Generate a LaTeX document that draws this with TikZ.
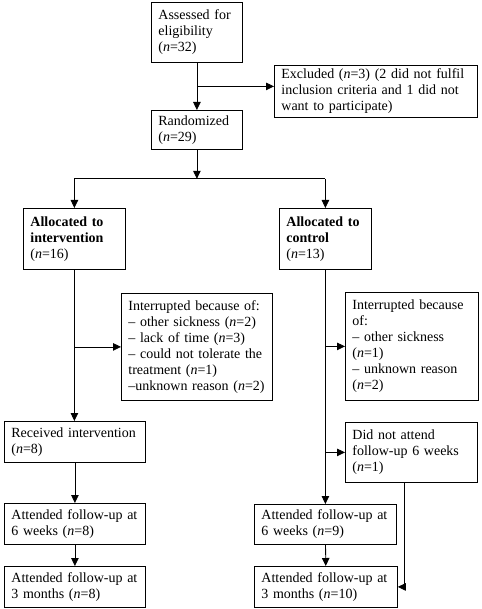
\documentclass[tikz,border=0pt]{standalone}
\usepackage{fontspec}
\setmainfont{Liberation Serif}
\usetikzlibrary{arrows.meta,calc}

\tikzset{
  box/.style={draw, anchor=north west, align=left, inner xsep=7pt, inner ysep=2pt,
    font=\fontsize{14}{16}\selectfont},
  arr/.style={-{Triangle[length=8pt,width=7.5pt]}},
}

\begin{document}
\begin{tikzpicture}[x=1pt,y=-1pt,line width=0.8pt]
  \useasboundingbox (0,0) rectangle (481,609);
  % enrolment
  \node[box,text width=77pt,minimum height=60pt] (assess) at (151,2)
    {Assessed for\\eligibility\\(\textit{n}=32)};
  \node[box,text width=189pt,minimum height=52pt] (excl) at (274,65)
    {Excluded (\textit{n}=3) (2 did not fulfil\\inclusion criteria and 1 did not\\want to participate)};
  \node[box,text width=77pt,minimum height=39pt] (rand) at (151,110)
    {Randomized\\(\textit{n}=29)};
  % allocation
  \node[box,text width=88pt,minimum height=61pt] (alint) at (23,208)
    {\textbf{Allocated to}\\\textbf{intervention}\\(\textit{n}=16)};
  \node[box,text width=78pt,minimum height=61pt] (alctl) at (279,208)
    {\textbf{Allocated to}\\\textbf{control}\\(\textit{n}=13)};
  % drop-outs
  \node[box,text width=137pt,minimum height=107pt] (intl) at (121,293)
    {Interrupted because of:\\-- other sickness (\textit{n}=2)\\-- lack of time (\textit{n}=3)\\-- could not tolerate the\\treatment (\textit{n}=1)\\--unknown reason (\textit{n}=2)};
  \node[box,text width=119pt,minimum height=108pt] (intr) at (345,292)
    {Interrupted because\\of:\\-- other sickness\\(\textit{n}=1)\\-- unknown reason\\(\textit{n}=2)};
  \node[box,text width=118pt,minimum height=60pt] (dna) at (345,422)
    {Did not attend\\follow-up 6 weeks\\(\textit{n}=1)};
  % follow-up, left column
  \node[box,text width=127pt,minimum height=41pt] (recv) at (4,421)
    {Received intervention\\(\textit{n}=8)};
  \node[box,text width=127pt,minimum height=41pt] (fusixl) at (4,503)
    {Attended follow-up at\\6 weeks (\textit{n}=8)};
  \node[box,text width=127pt,minimum height=41pt] (futhrl) at (4,566)
    {Attended follow-up at\\3 months (\textit{n}=8)};
  % follow-up, right column
  \node[box,text width=128pt,minimum height=40pt] (fusixr) at (254,504)
    {Attended follow-up at\\6 weeks (\textit{n}=9)};
  \node[box,text width=129pt,minimum height=41pt] (futhrr) at (254,566)
    {Attended follow-up at\\3 months (\textit{n}=10)};

  % connectors
  \draw[arr] (assess) -- (rand);
  \coordinate (jexcl) at ($(assess.south)!0.5!(rand.north)$);
  \draw[arr] (jexcl) -- (jexcl -| excl.west);
  \coordinate (split) at ($(rand.south)+(0,29)$);
  \draw[arr] (rand) -- (split);
  \draw (split -| alint.north) -- (split -| alctl.north);
  \draw[arr] (split -| alint.north) -- (alint);
  \draw[arr] (split -| alctl.north) -- (alctl);

  \draw[arr] (alint.south) -- (alint.south |- recv.north);
  \draw[arr] (alint.south |- intl.west) -- (intl.west);
  \draw[arr] (recv) -- (fusixl);
  \draw[arr] (fusixl) -- (futhrl);

  \draw[arr] (alctl.south) -- (alctl.south |- fusixr.north);
  \draw[arr] (alctl.south |- intr.west) -- (intr.west);
  \draw[arr] (alctl.south |- dna.west) -- (dna.west);
  \draw[arr] (fusixr) -- (futhrr);
  \draw[arr] ([xshift=-7pt]dna.south) |- (futhrr.east);
\end{tikzpicture}
\end{document}
